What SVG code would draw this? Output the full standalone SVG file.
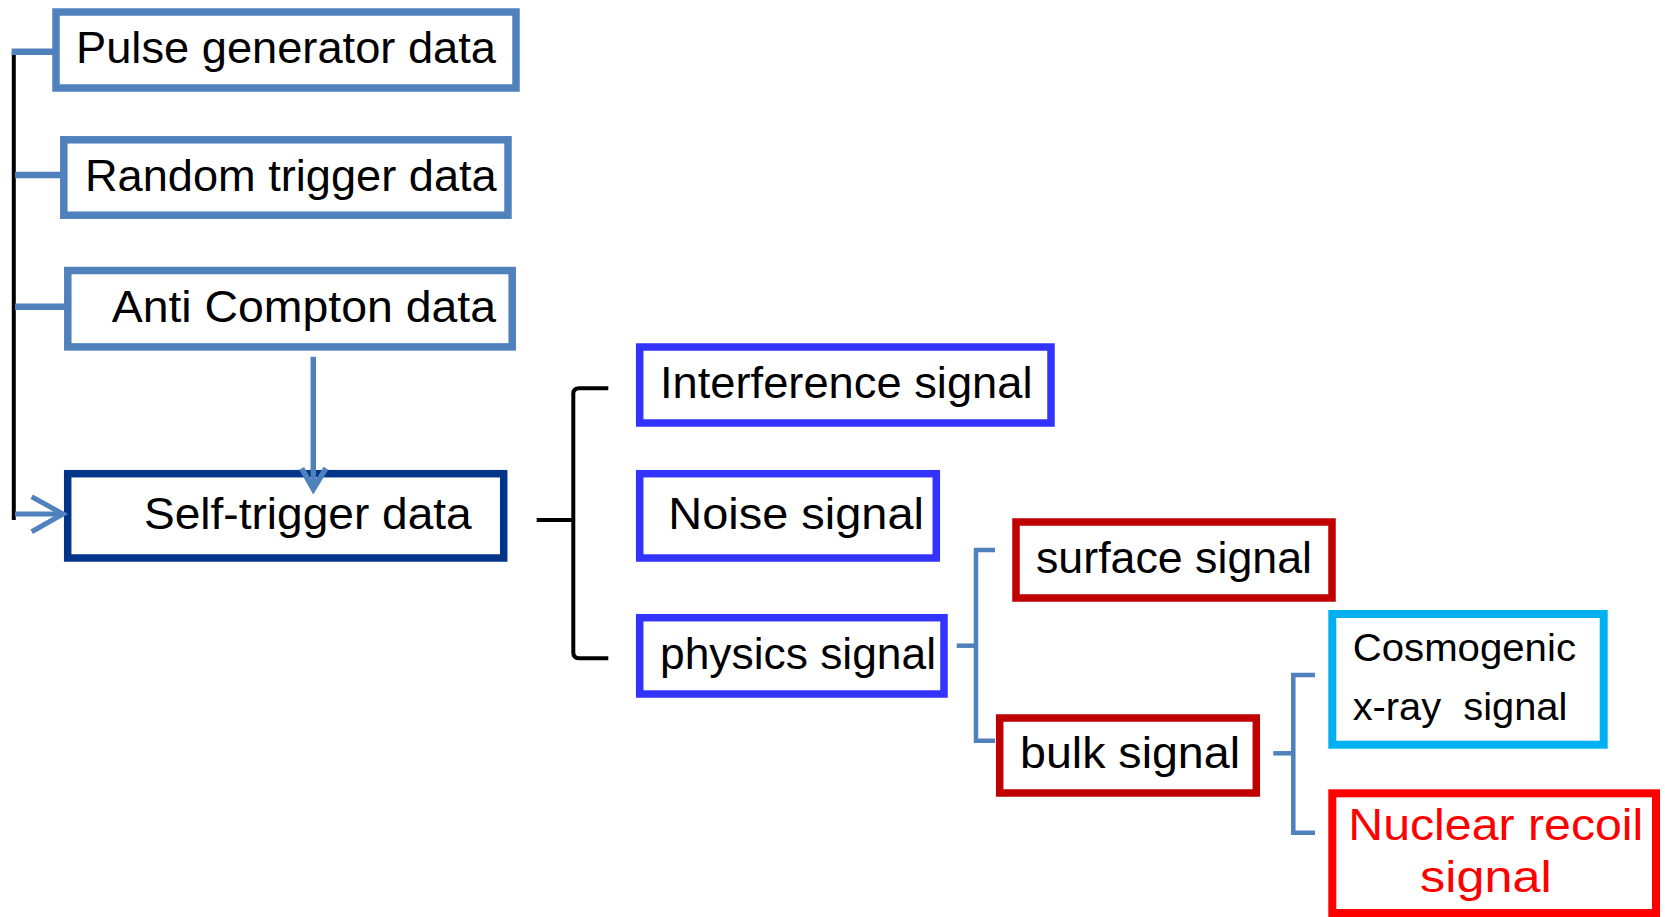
<svg xmlns="http://www.w3.org/2000/svg" width="1665" height="917" viewBox="0 0 1665 917">
  <defs>
    <style>
      .box { fill: #ffffff; stroke-width: 7.5; }
      .b1 { stroke: #4F81BD; }
      .b2 { stroke: #02358A; }
      .b3 { stroke: #3333FF; }
      .b4 { stroke: #C00000; }
      .b5 { stroke: #00B0F0; stroke-width: 8; }
      .b6 { stroke: #FF0000; stroke-width: 8; }
      .t { font-family: "Liberation Sans", Arial, sans-serif; font-size: 44px; fill: #000000; }
      .ts { font-size: 38px; }
      .tr { fill: #FF0000; }
      .con { fill: none; stroke: #4F81BD; }
      .blk { fill: none; stroke: #000000; stroke-width: 4; }
    </style>
  </defs>

  <g id="pulse">
    <rect class="box b1" x="56" y="12" width="460" height="76"/>
    <text class="t" x="76" y="63.3" textLength="420" lengthAdjust="spacingAndGlyphs">Pulse generator data</text>
  </g>
  <g id="random">
    <rect class="box b1" x="63.8" y="139.8" width="444.2" height="75.4"/>
    <text class="t" x="85" y="190.7" textLength="411.7" lengthAdjust="spacingAndGlyphs">Random trigger data</text>
  </g>
  <g id="anticompton">
    <rect class="box b1" x="67.8" y="270.5" width="444.4" height="76.4"/>
    <text class="t" x="111.7" y="321.7" textLength="384.3" lengthAdjust="spacingAndGlyphs">Anti Compton data</text>
  </g>
  <g id="selftrigger">
    <rect class="box b2" x="67.7" y="473.7" width="436" height="84.3"/>
    <text class="t" x="144" y="529.3" textLength="327.7" lengthAdjust="spacingAndGlyphs">Self-trigger data</text>
  </g>
  <g id="interference">
    <rect class="box b3" x="639.7" y="347" width="411.3" height="76"/>
    <text class="t" x="660" y="398.3" textLength="372.5" lengthAdjust="spacingAndGlyphs">Interference signal</text>
  </g>
  <g id="noise">
    <rect class="box b3" x="639.7" y="473.7" width="296.6" height="84.3"/>
    <text class="t" x="668.3" y="529.3" textLength="255.7" lengthAdjust="spacingAndGlyphs">Noise signal</text>
  </g>
  <g id="physics">
    <rect class="box b3" x="639.7" y="617.7" width="304.3" height="76.3"/>
    <text class="t" x="660" y="669.3" textLength="276" lengthAdjust="spacingAndGlyphs">physics signal</text>
  </g>
  <g id="surface">
    <rect class="box b4" x="1016" y="522" width="316" height="76"/>
    <text class="t" x="1036" y="573.3" textLength="276" lengthAdjust="spacingAndGlyphs">surface signal</text>
  </g>
  <g id="bulk">
    <rect class="box b4" x="999.7" y="718" width="256.6" height="75"/>
    <text class="t" x="1020" y="768.3" textLength="220" lengthAdjust="spacingAndGlyphs">bulk signal</text>
  </g>
  <g id="cosmogenic">
    <rect class="box b5" x="1332.3" y="614" width="271.4" height="130.7"/>
    <text class="t ts" x="1352.7" y="661" textLength="223.3" lengthAdjust="spacingAndGlyphs">Cosmogenic</text>
    <text class="t ts" x="1352.7" y="720" textLength="214.6" lengthAdjust="spacingAndGlyphs" xml:space="preserve">x-ray  signal</text>
  </g>
  <g id="nuclear">
    <rect class="box b6" x="1332.3" y="793.3" width="323.7" height="119.7"/>
    <text class="t tr" x="1348.3" y="840" textLength="295" lengthAdjust="spacingAndGlyphs">Nuclear recoil</text>
    <text class="t tr" x="1420" y="892.3" textLength="131.7" lengthAdjust="spacingAndGlyphs">signal</text>
  </g>

  <g id="connectors">
    <path class="blk" d="M13.8,51.7 V520"/>
    <path class="con" stroke-width="6.5" d="M11.7,51.7 H53"/>
    <path class="con" stroke-width="6.5" d="M15,175 H61"/>
    <path class="con" stroke-width="6.5" d="M15,306.7 H65"/>
    <path class="con" stroke-width="5" d="M15,514 H63"/>
    <path class="con" stroke-width="5" stroke="#8FAEDA" d="M31.7,496.7 L63,514 L31.7,531.7"/>
    <path class="con" stroke-width="5.5" d="M313.3,356.7 V489"/>
    <path class="con" stroke-width="5.5" d="M301.7,468.3 L313.3,489 L326,468.3"/>
    <path class="blk" d="M608.3,388.3 H579 Q573.3,388.3 573.3,394 V652.6 Q573.3,658.3 579,658.3 H608.3"/>
    <path class="blk" d="M536.7,520 H573.3"/>
    <path class="con" stroke-width="4.5" d="M995,550 H976 V740.7 H995"/>
    <path class="con" stroke-width="4.5" d="M956.7,645.7 H976"/>
    <path class="con" stroke-width="4.5" d="M1315,675 H1293.3 V832.7 H1315"/>
    <path class="con" stroke-width="4.5" d="M1273.3,753.3 H1293.3"/>
  </g>
</svg>
